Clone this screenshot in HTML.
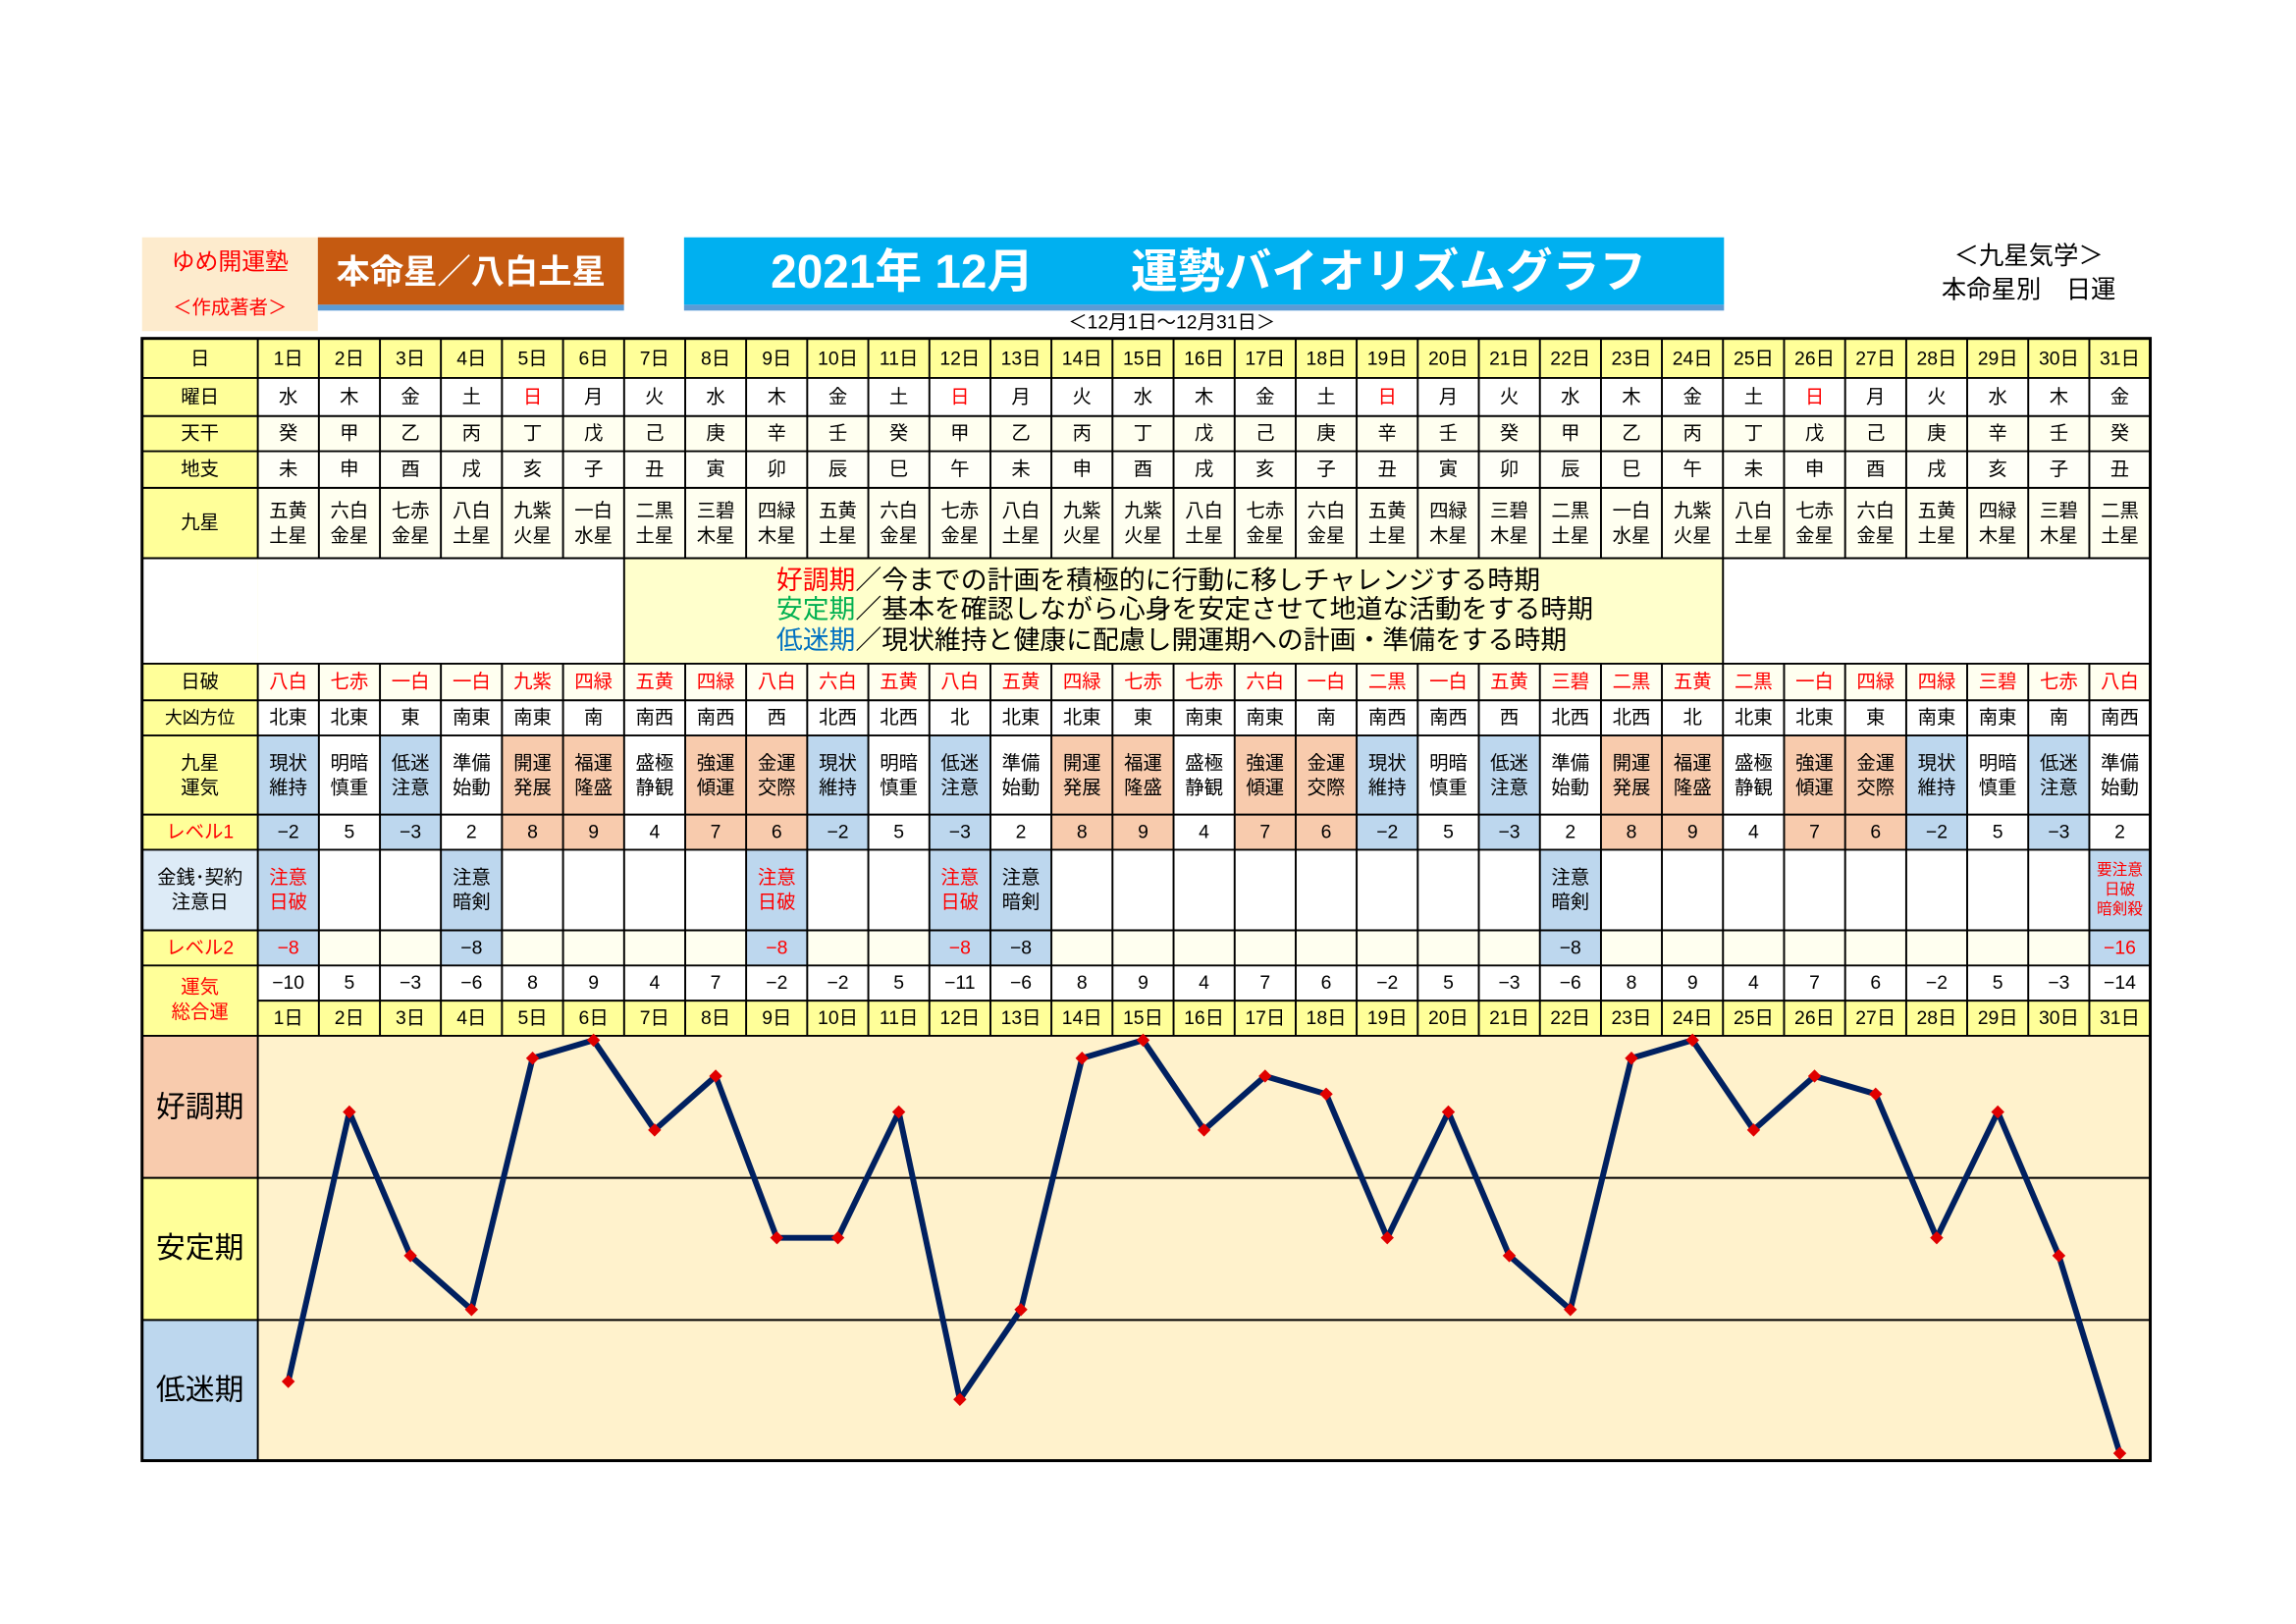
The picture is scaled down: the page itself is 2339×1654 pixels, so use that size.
<!DOCTYPE html>
<html><head><meta charset="utf-8"><style>
html,body{margin:0;padding:0;background:#fff;}
svg{display:block;}
text{font-family:"Liberation Sans","Noto Sans CJK JP",sans-serif;text-anchor:middle;dominant-baseline:central;}
text.st{text-anchor:start;}
</style></head><body>
<svg width="2339" height="1654" viewBox="0 0 1567.5 1108.5" preserveAspectRatio="none" xmlns="http://www.w3.org/2000/svg">
<defs><marker id="d" markerWidth="10" markerHeight="10" refX="5" refY="5" markerUnits="userSpaceOnUse"><path d="M5 0.5 L9.5 5 L5 9.5 L0.5 5Z" fill="#e00000"/></marker></defs>
<rect x="97" y="162" width="120" height="64" fill="#fdebcd"/>
<text x="157" y="179" font-size="16" fill="#f00">ゆめ開運塾</text>
<text x="157" y="210" font-size="13" fill="#f00">＜作成著者＞</text>
<rect x="217" y="162" width="209" height="46" fill="#c55a11"/>
<rect x="217" y="208" width="209" height="4" fill="#5b9bd5"/>
<text x="321.5" y="186" font-size="23" font-weight="bold" fill="#fff">本命星／八白土星</text>
<rect x="467" y="162" width="710" height="46" fill="#00b0f0"/>
<rect x="467" y="208" width="710" height="4" fill="#5b9bd5"/>
<text x="616" y="186" font-size="32" font-weight="bold" fill="#fff">2021年 12月</text>
<text x="948" y="186" font-size="32" font-weight="bold" fill="#fff">運勢バイオリズムグラフ</text>
<text x="800" y="220" font-size="13">＜12月1日～12月31日＞</text>
<text x="1385" y="175" font-size="17">＜九星気学＞</text>
<text x="1385" y="198" font-size="17">本命星別　日運</text>
<rect x="97" y="231" width="1371" height="27" fill="#ffff99"/>
<rect x="97" y="258" width="1371" height="26" fill="#fff"/>
<rect x="97" y="284" width="1371" height="24" fill="#fffff0"/>
<rect x="97" y="308" width="1371" height="25" fill="#fffff8"/>
<rect x="97" y="333" width="1371" height="48" fill="#fffff0"/>
<rect x="97" y="381" width="1371" height="72" fill="#fff"/>
<rect x="426.1" y="381" width="750.2" height="72" fill="#ffffcc"/>
<rect x="97" y="453" width="1371" height="25" fill="#fffff0"/>
<rect x="97" y="478" width="1371" height="24" fill="#fff"/>
<rect x="97" y="502" width="1371" height="78" fill="#fff"/>
<rect x="97" y="580" width="1371" height="55" fill="#fff"/>
<rect x="97" y="635" width="1371" height="24" fill="#fffff0"/>
<rect x="97" y="659" width="1371" height="24" fill="#fff"/>
<rect x="97" y="683" width="1371" height="24" fill="#ffff99"/>
<rect x="97" y="231" width="79" height="349" fill="#ffff99"/>
<rect x="97" y="381" width="79" height="72" fill="#fff"/>
<rect x="97" y="580" width="79" height="55" fill="#ddebf7"/>
<rect x="97" y="635" width="79" height="72" fill="#ffff99"/>
<g fill="#bdd7ee">
<rect x="176" y="502" width="41.7" height="78"/><rect x="259.4" y="502" width="41.7" height="78"/>
<rect x="551.1" y="502" width="41.7" height="78"/><rect x="634.5" y="502" width="41.7" height="78"/>
<rect x="926.2" y="502" width="41.7" height="78"/><rect x="1009.6" y="502" width="41.7" height="78"/>
<rect x="1301.4" y="502" width="41.7" height="78"/><rect x="1384.7" y="502" width="41.7" height="78"/>
<rect x="176" y="580" width="41.7" height="79"/><rect x="301" y="580" width="41.7" height="79"/>
<rect x="509.4" y="580" width="41.7" height="79"/><rect x="634.5" y="580" width="41.7" height="79"/>
<rect x="676.2" y="580" width="41.7" height="79"/><rect x="1051.3" y="580" width="41.7" height="79"/>
<rect x="1426.4" y="580" width="41.6" height="79"/>
</g>
<g fill="#f8cbad">
<rect x="342.7" y="502" width="83.4" height="78"/><rect x="467.8" y="502" width="83.3" height="78"/>
<rect x="717.8" y="502" width="83.4" height="78"/><rect x="842.9" y="502" width="83.3" height="78"/>
<rect x="1093" y="502" width="83.3" height="78"/><rect x="1218" y="502" width="83.4" height="78"/>
</g>
<rect x="176" y="707" width="1292" height="290" fill="#fff2cc"/>
<rect x="97" y="707" width="79" height="97" fill="#f8cbad"/>
<rect x="97" y="804" width="79" height="97" fill="#ffff99"/>
<rect x="97" y="901" width="79" height="96" fill="#bdd7ee"/>
<g stroke="#000" stroke-width="1.3">
<path d="M97 258H1468M97 284H1468M97 308H1468M97 333H1468M97 381H1468M97 453H1468M97 478H1468M97 502H1468M97 556H1468M97 580H1468M97 635H1468M97 659H1468M176 683H1468M97 707H1468M97 804H1468M97 901H1468"/>
<path d="M176 231V381M217.7 231V381M259.4 231V381M301 231V381M342.7 231V381M384.4 231V381M426.1 231V381M467.8 231V381M509.4 231V381M551.1 231V381M592.8 231V381M634.5 231V381M676.2 231V381M717.8 231V381M759.5 231V381M801.2 231V381M842.9 231V381M884.6 231V381M926.2 231V381M967.9 231V381M1009.6 231V381M1051.3 231V381M1093 231V381M1134.6 231V381M1176.3 231V381M1218 231V381M1259.7 231V381M1301.4 231V381M1343 231V381M1384.7 231V381M1426.4 231V381"/>
<path d="M426.1 381V453M1176.3 381V453M176 997V707"/>
<path d="M176 453V707M217.7 453V707M259.4 453V707M301 453V707M342.7 453V707M384.4 453V707M426.1 453V707M467.8 453V707M509.4 453V707M551.1 453V707M592.8 453V707M634.5 453V707M676.2 453V707M717.8 453V707M759.5 453V707M801.2 453V707M842.9 453V707M884.6 453V707M926.2 453V707M967.9 453V707M1009.6 453V707M1051.3 453V707M1093 453V707M1134.6 453V707M1176.3 453V707M1218 453V707M1259.7 453V707M1301.4 453V707M1343 453V707M1384.7 453V707M1426.4 453V707"/>
</g>
<rect x="97" y="231" width="1371" height="766" fill="none" stroke="#000" stroke-width="2"/>
<g font-size="13">
<text x="136.5" y="245">日</text><text x="136.5" y="271">曜日</text><text x="136.5" y="296">天干</text><text x="136.5" y="320.5">地支</text><text x="136.5" y="357">九星</text>
<text x="136.5" y="465.5">日破</text><text x="136.5" y="490" font-size="12">大凶方位</text>
<text x="136.5" y="521">九星</text><text x="136.5" y="538">運気</text>
<text x="136.5" y="568" fill="#f00">レベル1</text>
<text x="136.5" y="599">金銭･契約</text><text x="136.5" y="616">注意日</text>
<text x="136.5" y="647" fill="#f00">レベル2</text>
<text x="136.5" y="674" fill="#f00">運気</text><text x="136.5" y="691" fill="#f00">総合運</text>
</g>
<g font-size="20"><text x="136.5" y="756">好調期</text><text x="136.5" y="852">安定期</text><text x="136.5" y="949">低迷期</text></g>
<g font-size="13">
<text x="196.8" y="245">1日</text><text x="238.5" y="245">2日</text><text x="280.2" y="245">3日</text><text x="321.9" y="245">4日</text><text x="363.6" y="245">5日</text><text x="405.2" y="245">6日</text><text x="446.9" y="245">7日</text><text x="488.6" y="245">8日</text><text x="530.3" y="245">9日</text><text x="572" y="245">10日</text><text x="613.6" y="245">11日</text><text x="655.3" y="245">12日</text><text x="697" y="245">13日</text><text x="738.7" y="245">14日</text><text x="780.4" y="245">15日</text><text x="822" y="245">16日</text><text x="863.7" y="245">17日</text><text x="905.4" y="245">18日</text><text x="947.1" y="245">19日</text><text x="988.8" y="245">20日</text><text x="1030.4" y="245">21日</text><text x="1072.1" y="245">22日</text><text x="1113.8" y="245">23日</text><text x="1155.5" y="245">24日</text><text x="1197.2" y="245">25日</text><text x="1238.8" y="245">26日</text><text x="1280.5" y="245">27日</text><text x="1322.2" y="245">28日</text><text x="1363.9" y="245">29日</text><text x="1405.6" y="245">30日</text><text x="1447.2" y="245">31日</text>
</g>
<g font-size="13">
<text x="196.8" y="695">1日</text><text x="238.5" y="695">2日</text><text x="280.2" y="695">3日</text><text x="321.9" y="695">4日</text><text x="363.6" y="695">5日</text><text x="405.2" y="695">6日</text><text x="446.9" y="695">7日</text><text x="488.6" y="695">8日</text><text x="530.3" y="695">9日</text><text x="572" y="695">10日</text><text x="613.6" y="695">11日</text><text x="655.3" y="695">12日</text><text x="697" y="695">13日</text><text x="738.7" y="695">14日</text><text x="780.4" y="695">15日</text><text x="822" y="695">16日</text><text x="863.7" y="695">17日</text><text x="905.4" y="695">18日</text><text x="947.1" y="695">19日</text><text x="988.8" y="695">20日</text><text x="1030.4" y="695">21日</text><text x="1072.1" y="695">22日</text><text x="1113.8" y="695">23日</text><text x="1155.5" y="695">24日</text><text x="1197.2" y="695">25日</text><text x="1238.8" y="695">26日</text><text x="1280.5" y="695">27日</text><text x="1322.2" y="695">28日</text><text x="1363.9" y="695">29日</text><text x="1405.6" y="695">30日</text><text x="1447.2" y="695">31日</text>
</g>
<g font-size="13">
<text x="196.8" y="271">水</text><text x="238.5" y="271">木</text><text x="280.2" y="271">金</text><text x="321.9" y="271">土</text><text x="363.6" y="271" fill="#f00">日</text><text x="405.2" y="271">月</text><text x="446.9" y="271">火</text><text x="488.6" y="271">水</text><text x="530.3" y="271">木</text><text x="572" y="271">金</text><text x="613.6" y="271">土</text><text x="655.3" y="271" fill="#f00">日</text><text x="697" y="271">月</text><text x="738.7" y="271">火</text><text x="780.4" y="271">水</text><text x="822" y="271">木</text><text x="863.7" y="271">金</text><text x="905.4" y="271">土</text><text x="947.1" y="271" fill="#f00">日</text><text x="988.8" y="271">月</text><text x="1030.4" y="271">火</text><text x="1072.1" y="271">水</text><text x="1113.8" y="271">木</text><text x="1155.5" y="271">金</text><text x="1197.2" y="271">土</text><text x="1238.8" y="271" fill="#f00">日</text><text x="1280.5" y="271">月</text><text x="1322.2" y="271">火</text><text x="1363.9" y="271">水</text><text x="1405.6" y="271">木</text><text x="1447.2" y="271">金</text>
</g>
<g font-size="13">
<text x="196.8" y="296">癸</text><text x="238.5" y="296">甲</text><text x="280.2" y="296">乙</text><text x="321.9" y="296">丙</text><text x="363.6" y="296">丁</text><text x="405.2" y="296">戊</text><text x="446.9" y="296">己</text><text x="488.6" y="296">庚</text><text x="530.3" y="296">辛</text><text x="572" y="296">壬</text><text x="613.6" y="296">癸</text><text x="655.3" y="296">甲</text><text x="697" y="296">乙</text><text x="738.7" y="296">丙</text><text x="780.4" y="296">丁</text><text x="822" y="296">戊</text><text x="863.7" y="296">己</text><text x="905.4" y="296">庚</text><text x="947.1" y="296">辛</text><text x="988.8" y="296">壬</text><text x="1030.4" y="296">癸</text><text x="1072.1" y="296">甲</text><text x="1113.8" y="296">乙</text><text x="1155.5" y="296">丙</text><text x="1197.2" y="296">丁</text><text x="1238.8" y="296">戊</text><text x="1280.5" y="296">己</text><text x="1322.2" y="296">庚</text><text x="1363.9" y="296">辛</text><text x="1405.6" y="296">壬</text><text x="1447.2" y="296">癸</text>
</g>
<g font-size="13">
<text x="196.8" y="320.5">未</text><text x="238.5" y="320.5">申</text><text x="280.2" y="320.5">酉</text><text x="321.9" y="320.5">戌</text><text x="363.6" y="320.5">亥</text><text x="405.2" y="320.5">子</text><text x="446.9" y="320.5">丑</text><text x="488.6" y="320.5">寅</text><text x="530.3" y="320.5">卯</text><text x="572" y="320.5">辰</text><text x="613.6" y="320.5">巳</text><text x="655.3" y="320.5">午</text><text x="697" y="320.5">未</text><text x="738.7" y="320.5">申</text><text x="780.4" y="320.5">酉</text><text x="822" y="320.5">戌</text><text x="863.7" y="320.5">亥</text><text x="905.4" y="320.5">子</text><text x="947.1" y="320.5">丑</text><text x="988.8" y="320.5">寅</text><text x="1030.4" y="320.5">卯</text><text x="1072.1" y="320.5">辰</text><text x="1113.8" y="320.5">巳</text><text x="1155.5" y="320.5">午</text><text x="1197.2" y="320.5">未</text><text x="1238.8" y="320.5">申</text><text x="1280.5" y="320.5">酉</text><text x="1322.2" y="320.5">戌</text><text x="1363.9" y="320.5">亥</text><text x="1405.6" y="320.5">子</text><text x="1447.2" y="320.5">丑</text>
</g>
<g font-size="13">
<text x="196.8" y="349">五黄</text><text x="238.5" y="349">六白</text><text x="280.2" y="349">七赤</text><text x="321.9" y="349">八白</text><text x="363.6" y="349">九紫</text><text x="405.2" y="349">一白</text><text x="446.9" y="349">二黒</text><text x="488.6" y="349">三碧</text><text x="530.3" y="349">四緑</text><text x="572" y="349">五黄</text><text x="613.6" y="349">六白</text><text x="655.3" y="349">七赤</text><text x="697" y="349">八白</text><text x="738.7" y="349">九紫</text><text x="780.4" y="349">九紫</text><text x="822" y="349">八白</text><text x="863.7" y="349">七赤</text><text x="905.4" y="349">六白</text><text x="947.1" y="349">五黄</text><text x="988.8" y="349">四緑</text><text x="1030.4" y="349">三碧</text><text x="1072.1" y="349">二黒</text><text x="1113.8" y="349">一白</text><text x="1155.5" y="349">九紫</text><text x="1197.2" y="349">八白</text><text x="1238.8" y="349">七赤</text><text x="1280.5" y="349">六白</text><text x="1322.2" y="349">五黄</text><text x="1363.9" y="349">四緑</text><text x="1405.6" y="349">三碧</text><text x="1447.2" y="349">二黒</text>
<text x="196.8" y="366">土星</text><text x="238.5" y="366">金星</text><text x="280.2" y="366">金星</text><text x="321.9" y="366">土星</text><text x="363.6" y="366">火星</text><text x="405.2" y="366">水星</text><text x="446.9" y="366">土星</text><text x="488.6" y="366">木星</text><text x="530.3" y="366">木星</text><text x="572" y="366">土星</text><text x="613.6" y="366">金星</text><text x="655.3" y="366">金星</text><text x="697" y="366">土星</text><text x="738.7" y="366">火星</text><text x="780.4" y="366">火星</text><text x="822" y="366">土星</text><text x="863.7" y="366">金星</text><text x="905.4" y="366">金星</text><text x="947.1" y="366">土星</text><text x="988.8" y="366">木星</text><text x="1030.4" y="366">木星</text><text x="1072.1" y="366">土星</text><text x="1113.8" y="366">水星</text><text x="1155.5" y="366">火星</text><text x="1197.2" y="366">土星</text><text x="1238.8" y="366">金星</text><text x="1280.5" y="366">金星</text><text x="1322.2" y="366">土星</text><text x="1363.9" y="366">木星</text><text x="1405.6" y="366">木星</text><text x="1447.2" y="366">土星</text>
</g>
<g font-size="18">
<text class="st" x="530" y="396"><tspan fill="#f00">好調期</tspan>／今までの計画を積極的に行動に移しチャレンジする時期</text>
<text class="st" x="530" y="416"><tspan fill="#00b050">安定期</tspan>／基本を確認しながら心身を安定させて地道な活動をする時期</text>
<text class="st" x="530" y="437"><tspan fill="#0070c0">低迷期</tspan>／現状維持と健康に配慮し開運期への計画・準備をする時期</text>
</g>
<g font-size="13" fill="#f00">
<text x="196.8" y="465.5">八白</text><text x="238.5" y="465.5">七赤</text><text x="280.2" y="465.5">一白</text><text x="321.9" y="465.5">一白</text><text x="363.6" y="465.5">九紫</text><text x="405.2" y="465.5">四緑</text><text x="446.9" y="465.5">五黄</text><text x="488.6" y="465.5">四緑</text><text x="530.3" y="465.5">八白</text><text x="572" y="465.5">六白</text><text x="613.6" y="465.5">五黄</text><text x="655.3" y="465.5">八白</text><text x="697" y="465.5">五黄</text><text x="738.7" y="465.5">四緑</text><text x="780.4" y="465.5">七赤</text><text x="822" y="465.5">七赤</text><text x="863.7" y="465.5">六白</text><text x="905.4" y="465.5">一白</text><text x="947.1" y="465.5">二黒</text><text x="988.8" y="465.5">一白</text><text x="1030.4" y="465.5">五黄</text><text x="1072.1" y="465.5">三碧</text><text x="1113.8" y="465.5">二黒</text><text x="1155.5" y="465.5">五黄</text><text x="1197.2" y="465.5">二黒</text><text x="1238.8" y="465.5">一白</text><text x="1280.5" y="465.5">四緑</text><text x="1322.2" y="465.5">四緑</text><text x="1363.9" y="465.5">三碧</text><text x="1405.6" y="465.5">七赤</text><text x="1447.2" y="465.5">八白</text>
</g>
<g font-size="13">
<text x="196.8" y="490">北東</text><text x="238.5" y="490">北東</text><text x="280.2" y="490">東</text><text x="321.9" y="490">南東</text><text x="363.6" y="490">南東</text><text x="405.2" y="490">南</text><text x="446.9" y="490">南西</text><text x="488.6" y="490">南西</text><text x="530.3" y="490">西</text><text x="572" y="490">北西</text><text x="613.6" y="490">北西</text><text x="655.3" y="490">北</text><text x="697" y="490">北東</text><text x="738.7" y="490">北東</text><text x="780.4" y="490">東</text><text x="822" y="490">南東</text><text x="863.7" y="490">南東</text><text x="905.4" y="490">南</text><text x="947.1" y="490">南西</text><text x="988.8" y="490">南西</text><text x="1030.4" y="490">西</text><text x="1072.1" y="490">北西</text><text x="1113.8" y="490">北西</text><text x="1155.5" y="490">北</text><text x="1197.2" y="490">北東</text><text x="1238.8" y="490">北東</text><text x="1280.5" y="490">東</text><text x="1322.2" y="490">南東</text><text x="1363.9" y="490">南東</text><text x="1405.6" y="490">南</text><text x="1447.2" y="490">南西</text>
</g>
<g font-size="13">
<text x="196.8" y="521">現状</text><text x="238.5" y="521">明暗</text><text x="280.2" y="521">低迷</text><text x="321.9" y="521">準備</text><text x="363.6" y="521">開運</text><text x="405.2" y="521">福運</text><text x="446.9" y="521">盛極</text><text x="488.6" y="521">強運</text><text x="530.3" y="521">金運</text><text x="572" y="521">現状</text><text x="613.6" y="521">明暗</text><text x="655.3" y="521">低迷</text><text x="697" y="521">準備</text><text x="738.7" y="521">開運</text><text x="780.4" y="521">福運</text><text x="822" y="521">盛極</text><text x="863.7" y="521">強運</text><text x="905.4" y="521">金運</text><text x="947.1" y="521">現状</text><text x="988.8" y="521">明暗</text><text x="1030.4" y="521">低迷</text><text x="1072.1" y="521">準備</text><text x="1113.8" y="521">開運</text><text x="1155.5" y="521">福運</text><text x="1197.2" y="521">盛極</text><text x="1238.8" y="521">強運</text><text x="1280.5" y="521">金運</text><text x="1322.2" y="521">現状</text><text x="1363.9" y="521">明暗</text><text x="1405.6" y="521">低迷</text><text x="1447.2" y="521">準備</text>
<text x="196.8" y="538">維持</text><text x="238.5" y="538">慎重</text><text x="280.2" y="538">注意</text><text x="321.9" y="538">始動</text><text x="363.6" y="538">発展</text><text x="405.2" y="538">隆盛</text><text x="446.9" y="538">静観</text><text x="488.6" y="538">傾運</text><text x="530.3" y="538">交際</text><text x="572" y="538">維持</text><text x="613.6" y="538">慎重</text><text x="655.3" y="538">注意</text><text x="697" y="538">始動</text><text x="738.7" y="538">発展</text><text x="780.4" y="538">隆盛</text><text x="822" y="538">静観</text><text x="863.7" y="538">傾運</text><text x="905.4" y="538">交際</text><text x="947.1" y="538">維持</text><text x="988.8" y="538">慎重</text><text x="1030.4" y="538">注意</text><text x="1072.1" y="538">始動</text><text x="1113.8" y="538">発展</text><text x="1155.5" y="538">隆盛</text><text x="1197.2" y="538">静観</text><text x="1238.8" y="538">傾運</text><text x="1280.5" y="538">交際</text><text x="1322.2" y="538">維持</text><text x="1363.9" y="538">慎重</text><text x="1405.6" y="538">注意</text><text x="1447.2" y="538">始動</text>
</g>
<g font-size="13">
<text x="196.8" y="568">−2</text><text x="238.5" y="568">5</text><text x="280.2" y="568">−3</text><text x="321.9" y="568">2</text><text x="363.6" y="568">8</text><text x="405.2" y="568">9</text><text x="446.9" y="568">4</text><text x="488.6" y="568">7</text><text x="530.3" y="568">6</text><text x="572" y="568">−2</text><text x="613.6" y="568">5</text><text x="655.3" y="568">−3</text><text x="697" y="568">2</text><text x="738.7" y="568">8</text><text x="780.4" y="568">9</text><text x="822" y="568">4</text><text x="863.7" y="568">7</text><text x="905.4" y="568">6</text><text x="947.1" y="568">−2</text><text x="988.8" y="568">5</text><text x="1030.4" y="568">−3</text><text x="1072.1" y="568">2</text><text x="1113.8" y="568">8</text><text x="1155.5" y="568">9</text><text x="1197.2" y="568">4</text><text x="1238.8" y="568">7</text><text x="1280.5" y="568">6</text><text x="1322.2" y="568">−2</text><text x="1363.9" y="568">5</text><text x="1405.6" y="568">−3</text><text x="1447.2" y="568">2</text>
</g>
<g font-size="13">
<text x="196.8" y="599" fill="#f00">注意</text><text x="196.8" y="616" fill="#f00">日破</text>
<text x="321.9" y="599">注意</text><text x="321.9" y="616">暗剣</text>
<text x="530.3" y="599" fill="#f00">注意</text><text x="530.3" y="616" fill="#f00">日破</text>
<text x="655.3" y="599" fill="#f00">注意</text><text x="655.3" y="616" fill="#f00">日破</text>
<text x="697" y="599">注意</text><text x="697" y="616">暗剣</text>
<text x="1072.1" y="599">注意</text><text x="1072.1" y="616">暗剣</text>
<g font-size="10.5" fill="#f00"><text x="1447.2" y="594">要注意</text><text x="1447.2" y="607.5">日破</text><text x="1447.2" y="621">暗剣殺</text></g>
</g>
<g font-size="13">
<text x="196.8" y="647" fill="#f00">−8</text><text x="321.9" y="647">−8</text><text x="530.3" y="647" fill="#f00">−8</text><text x="655.3" y="647" fill="#f00">−8</text><text x="697" y="647">−8</text><text x="1072.1" y="647">−8</text><text x="1447.2" y="647" fill="#f00">−16</text>
</g>
<g font-size="13">
<text x="196.8" y="671">−10</text><text x="238.5" y="671">5</text><text x="280.2" y="671">−3</text><text x="321.9" y="671">−6</text><text x="363.6" y="671">8</text><text x="405.2" y="671">9</text><text x="446.9" y="671">4</text><text x="488.6" y="671">7</text><text x="530.3" y="671">−2</text><text x="572" y="671">−2</text><text x="613.6" y="671">5</text><text x="655.3" y="671">−11</text><text x="697" y="671">−6</text><text x="738.7" y="671">8</text><text x="780.4" y="671">9</text><text x="822" y="671">4</text><text x="863.7" y="671">7</text><text x="905.4" y="671">6</text><text x="947.1" y="671">−2</text><text x="988.8" y="671">5</text><text x="1030.4" y="671">−3</text><text x="1072.1" y="671">−6</text><text x="1113.8" y="671">8</text><text x="1155.5" y="671">9</text><text x="1197.2" y="671">4</text><text x="1238.8" y="671">7</text><text x="1280.5" y="671">6</text><text x="1322.2" y="671">−2</text><text x="1363.9" y="671">5</text><text x="1405.6" y="671">−3</text><text x="1447.2" y="671">−14</text>
</g>
<polyline fill="none" stroke="#002060" stroke-width="4" stroke-linejoin="round" marker-start="url(#d)" marker-mid="url(#d)" marker-end="url(#d)" points="196.8,943 238.5,759 280.2,857.1 321.9,893.9 363.6,722.3 405.2,710 446.9,771.3 488.6,734.5 530.3,844.9 572,844.9 613.6,759 655.3,955.2 697,893.9 738.7,722.3 780.4,710 822,771.3 863.7,734.5 905.4,746.8 947.1,844.9 988.8,759 1030.4,857.1 1072.1,893.9 1113.8,722.3 1155.5,710 1197.2,771.3 1238.8,734.5 1280.5,746.8 1322.2,844.9 1363.9,759 1405.6,857.1 1447.2,992"/>
</svg>
</body></html>
